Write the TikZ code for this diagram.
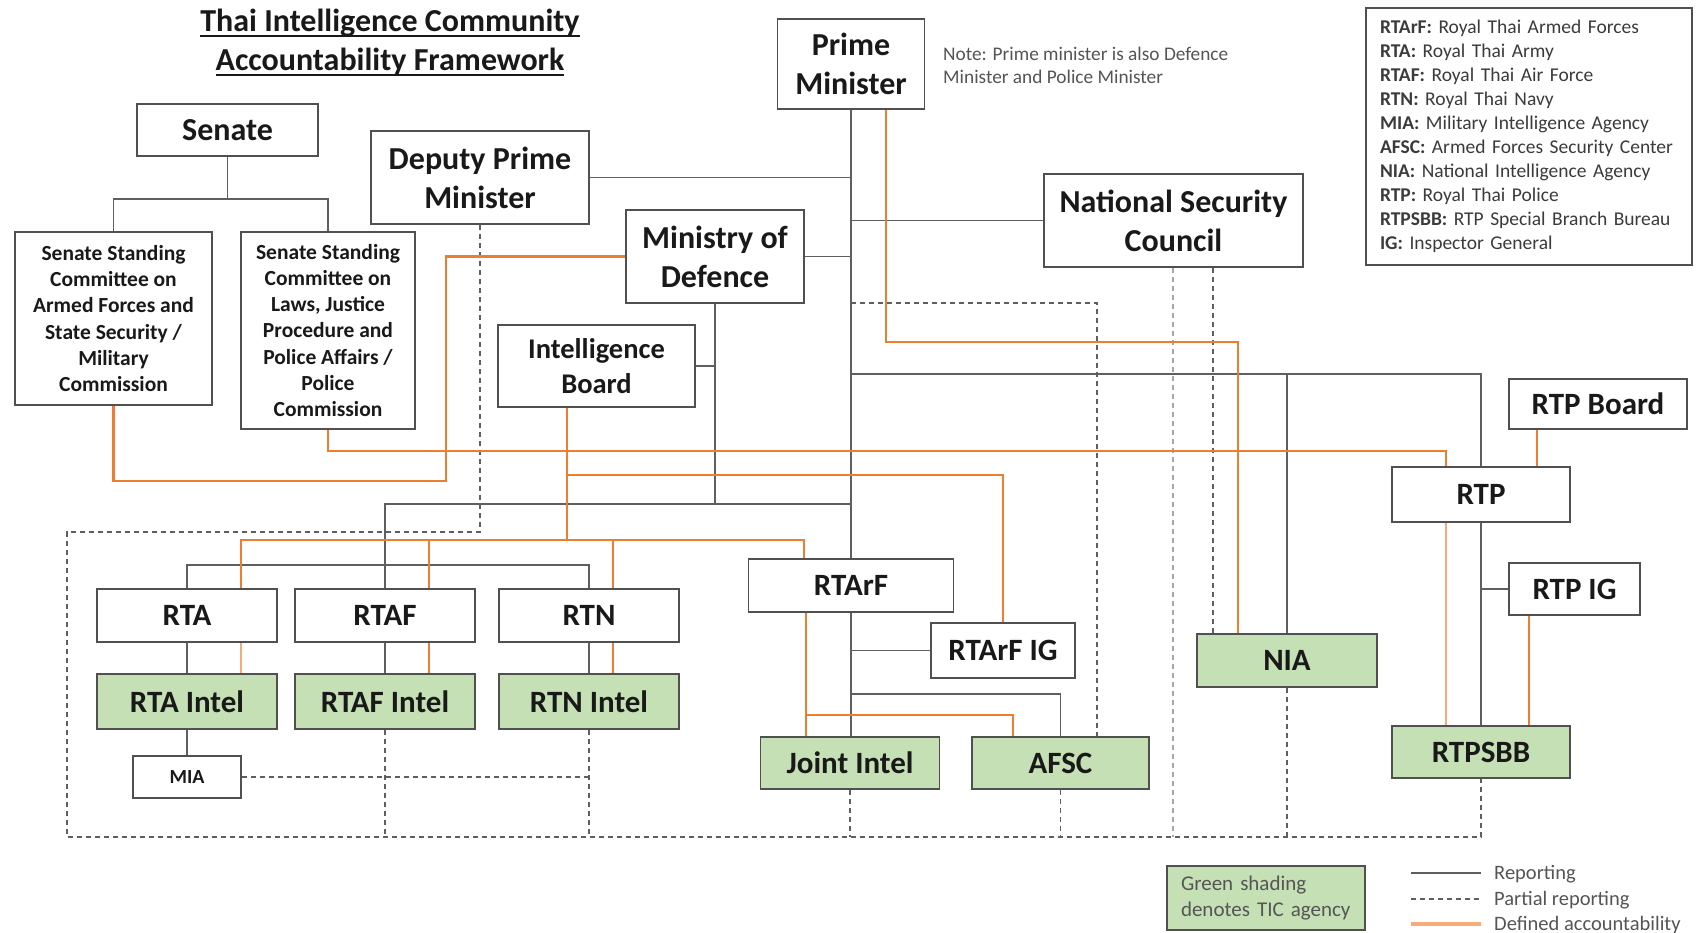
\documentclass[tikz,border=0pt]{standalone}
\usepackage{fontspec}
\setmainfont{Carlito}
\usetikzlibrary{backgrounds}
\definecolor{boxc}{RGB}{80,80,80}
\definecolor{repc}{RGB}{95,95,95}
\definecolor{accc}{RGB}{237,125,49}
\definecolor{acclc}{RGB}{245,172,122}
\definecolor{greenc}{RGB}{197,224,180}
\definecolor{txtc}{RGB}{25,25,25}
\definecolor{notec}{RGB}{85,85,85}
\newcommand{\ulbox}[1]{\setbox0=\hbox{#1}\rlap{\rule[-5pt]{\wd0}{2pt}}\box0}
\tikzset{
  box/.style={draw=boxc, line width=1.8pt, fill=white, inner sep=0pt, align=center, text=txtc},
  tic/.style={box, fill=greenc},
  big/.style={font=\bfseries\fontsize{32}{39}\selectfont},
  mid/.style={font=\bfseries\fontsize{28.5}{35}\selectfont},
  one/.style={font=\bfseries\fontsize{31}{38}\selectfont},
  small/.style={font=\bfseries\fontsize{21.5}{26.2}\selectfont},
  rep/.style={draw=repc, line width=1.8pt},
  part/.style={draw=repc, line width=1.5pt, dash pattern=on 5pt off 4pt},
  partl/.style={part, draw=repc!55},
  acc/.style={draw=accc, line width=2.4pt},
  accl/.style={draw=acclc, line width=2.4pt},
}
\begin{document}
\begin{tikzpicture}[x=1pt,y=-1pt]
\useasboundingbox (0,0) rectangle (1702,933);

% title and note
\node[font=\bfseries\fontsize{32}{39}\selectfont, align=center, text=txtc, inner sep=0pt] (title) at (390,42.5)
  {\ulbox{Thai Intelligence Community}\\\ulbox{Accountability Framework}};
\node[anchor=west, align=left, inner sep=0pt, font=\fontsize{19.3}{23}\selectfont, text=notec] (note) at (943,65.5)
  {Note: Prime minister is also Defence\\Minister and Police Minister};

% boxes
\node[box, big, minimum width=181pt, minimum height=52pt] (senate) at (227.5,130) {Senate};
\node[box, small, minimum width=197pt, minimum height=173pt] (comL) at (113.5,318.5)
  {Senate Standing\\Committee on\\Armed Forces and\\State Security /\\Military\\Commission};
\node[box, small, minimum width=174pt, minimum height=197pt] (comR) at (328,330.5)
  {Senate Standing\\Committee on\\Laws, Justice\\Procedure and\\Police Affairs /\\Police\\Commission};
\node[box, big, minimum width=218pt, minimum height=93pt] (dpm) at (480,177.5) {Deputy Prime\\Minister};
\node[box, big, minimum width=147pt, minimum height=90pt] (pm) at (851,64) {Prime\\Minister};
\node[box, big, minimum width=178pt, minimum height=93pt] (mod) at (715,256.5) {Ministry of\\Defence};
\node[box, big, minimum width=259pt, minimum height=93pt] (nsc) at (1173.5,220.5) {National Security\\Council};
\node[box, mid, minimum width=197pt, minimum height=82pt] (ib) at (596.5,366) {Intelligence\\Board};
\node[box, one, minimum width=178pt, minimum height=50pt] (rtpb) at (1598,404) {RTP Board};
\node[box, one, minimum width=178pt, minimum height=55pt] (rtp) at (1481,494.5) {RTP};
\node[box, one, minimum width=131pt, minimum height=52pt] (rtpig) at (1574.5,589) {RTP IG};
\node[tic, one, minimum width=178pt, minimum height=52pt] (rtpsbb) at (1481,752) {RTPSBB};
\node[tic, one, minimum width=180pt, minimum height=53pt] (nia) at (1287,660.5) {NIA};
\node[box, one, minimum width=205pt, minimum height=53pt] (rtarf) at (851,585.5) {RTArF};
\node[box, one, minimum width=144pt, minimum height=55pt] (rtarfig) at (1003,650.5) {RTArF IG};
\node[tic, one, minimum width=179pt, minimum height=52pt] (joint) at (850,763) {Joint Intel};
\node[tic, one, minimum width=177pt, minimum height=52pt] (afsc) at (1060.5,763) {AFSC};
\node[box, one, minimum width=180pt, minimum height=53pt] (rta) at (187,615.5) {RTA};
\node[box, one, minimum width=180pt, minimum height=53pt] (rtaf) at (385,615.5) {RTAF};
\node[box, one, minimum width=180pt, minimum height=53pt] (rtn) at (589,615.5) {RTN};
\node[tic, one, minimum width=180pt, minimum height=55pt] (rtai) at (187,701.5) {RTA Intel};
\node[tic, one, minimum width=180pt, minimum height=55pt] (rtafi) at (385,701.5) {RTAF Intel};
\node[tic, one, minimum width=180pt, minimum height=55pt] (rtni) at (589,701.5) {RTN Intel};
\node[box, minimum width=108pt, minimum height=42pt, font=\bfseries\fontsize{20}{24}\selectfont] (mia) at (187,777) {MIA};

% abbreviation legend
\node[draw=boxc, line width=1.8pt, fill=white, text width=298pt, inner xsep=14pt, inner ysep=0pt,
      minimum height=257pt, align=left, font=\fontsize{19.5}{24}\selectfont, text=txtc!85] (abbr) at (1529,136.5)
  {\textbf{RTArF:} Royal Thai Armed Forces\\
   \textbf{RTA:} Royal Thai Army\\
   \textbf{RTAF:} Royal Thai Air Force\\
   \textbf{RTN:} Royal Thai Navy\\
   \textbf{MIA:} Military Intelligence Agency\\
   \textbf{AFSC:} Armed Forces Security Center\\
   \textbf{NIA:} National Intelligence Agency\\
   \textbf{RTP:} Royal Thai Police\\
   \textbf{RTPSBB:} RTP Special Branch Bureau\\
   \textbf{IG:} Inspector General};

% key
\node[draw=boxc, line width=1.8pt, fill=greenc, text width=170pt, inner xsep=14pt, inner ysep=0pt,
      minimum height=64pt, align=left, font=\fontsize{21}{26}\selectfont, text=notec] (greenkey) at (1266,898)
  {Green shading\\denotes TIC agency};
\coordinate (k1a) at (1411,873); \coordinate (k1b) at (1481,873);
\coordinate (k2a) at (1411,899); \coordinate (k2b) at (1481,899);
\coordinate (k3a) at (1411,924); \coordinate (k3b) at (1481,924);
\node[anchor=base west, inner sep=0pt, font=\fontsize{20.5}{25}\selectfont, text=notec] (k1t) at (1494,879) {Reporting};
\node[anchor=base west, inner sep=0pt, font=\fontsize{20.5}{25}\selectfont, text=notec] (k2t) at (1494,905) {Partial reporting};
\node[anchor=base west, inner sep=0pt, font=\fontsize{20.5}{25}\selectfont, text=notec] (k3t) at (1494,930) {Defined accountability};

\begin{scope}[on background layer]
\fill[white] (0,0) rectangle (1702,933);
\draw[rep, line width=1.5pt] (k1a) -- (k1b);
\draw[part] (k2a) -- (k2b);
\draw[accl, line width=4pt] (k3a) -- (k3b);

% reporting
\coordinate (sj) at (227.5,199);
\draw[rep] (senate.south) -- (sj);
\draw[rep] (comL.north) |- (sj) -| (comR.north);
\draw[rep] (pm.south) -- (pm.south |- rtarf.north);
\draw[rep] (rtarf.south) -- (rtarf.south |- joint.north);
\draw[rep] (dpm.east) -- (dpm.east -| pm.south);
\draw[rep] (mod.east) -- (mod.east -| pm.south);
\draw[rep] (nsc.west) -- (nsc.west -| pm.south);
\coordinate (g374) at (851,374);
\draw[rep] (g374) -| (rtp.north);
\draw[rep] (nia.north) -- (nia.north |- g374);
\coordinate (g504) at (715,504);
\draw[rep] (mod.south) -- (g504);
\draw[rep] (ib.east) -- (ib.east -| mod.south);
\draw[rep] (rtaf.north) |- (g504) -- (g504 -| pm.south);
\coordinate (g565) at (385,565);
\draw[rep] (rta.north) |- (g565) -| (rtn.north);
\draw[rep] (rta.south) -- (rtai.north);
\draw[rep] (rtaf.south) -- (rtafi.north);
\draw[rep] (rtn.south) -- (rtni.north);
\draw[rep] (rtai.south) -- (mia.north);
\draw[rep] (rtarfig.west -| pm.south) -- (rtarfig.west);
\coordinate (g694) at (851,694);
\draw[rep] (g694) -| (afsc.north);
\draw[rep] (rtp.south) -- (rtpsbb.north);
\draw[rep] (rtpig.west) -- (rtpig.west -| rtp.south);

% partial reporting
\coordinate (dA) at (480,532); \coordinate (dB) at (67,532); \coordinate (dC) at (67,837);
\draw[part] (dpm.south) -- (dA) -- (dB) -- (dC) -| (rtpsbb.south);
\draw[part] (rtafi.south) -- (rtafi.south |- dC);
\draw[part] (rtni.south) -- (rtni.south |- dC);
\draw[part] (mia.east) -- (mia.east -| rtni.south);
\draw[part] (joint.south) -- (joint.south |- dC);
\draw[part] (afsc.south) -- (afsc.south |- dC);
\draw[part] (nia.south) -- (nia.south |- dC);
\coordinate (dD) at (851,303);
\draw[part] (dD) -| (afsc.north -| 1097,0);
\draw[partl] (nsc.south -| 1173,0) -- (dC -| 1173,0);
\draw[part] (nsc.south -| 1213,0) -- (nia.north -| 1213,0);

% defined accountability
\coordinate (oA) at (113.5,481); \coordinate (oB) at (446,481);
\draw[acc] (comL.south) -- (oA) -- (oB) |- (mod.west);
\coordinate (oC) at (328,451);
\draw[acc] (comR.south) -- (oC) -| (rtp.north -| 1446,0);
\coordinate (oD) at (886,342);
\draw[acc] (pm.south -| oD) -- (oD) -| (nia.north -| 1238,0);
\coordinate (oE) at (567,540);
\draw[acc] (ib.south -| oE) -- (oE);
\draw[acc] (rta.north -| 241,0) |- (oE) -| (rtarf.north -| 804,0);
\draw[acc] (rtaf.north -| 429,0) -- (oE -| 429,0);
\draw[acc] (rtn.north -| 613,0) -- (oE -| 613,0);
\coordinate (oF) at (567,475);
\draw[acc] (oF) -| (rtarfig.north);
\coordinate (oG) at (806,715);
\draw[acc] (rtarf.south -| oG) -- (joint.north -| oG);
\draw[acc] (oG) -| (afsc.north -| 1013,0);
\draw[accl] (rta.south -| 241,0) -- (rtai.north -| 241,0);
\draw[acc] (rtaf.south -| 429,0) -- (rtafi.north -| 429,0);
\draw[acc] (rtn.south -| 613,0) -- (rtni.north -| 613,0);
\draw[acc] (rtpb.south -| 1537,0) -- (rtp.north -| 1537,0);
\draw[accl] (rtp.south -| 1446,0) -- (rtpsbb.north -| 1446,0);
\draw[acc] (rtpig.south -| 1529,0) -- (rtpsbb.north -| 1529,0);
\end{scope}
\end{tikzpicture}
\end{document}
